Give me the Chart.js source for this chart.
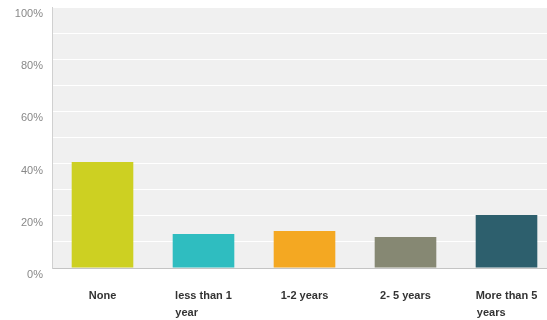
<!DOCTYPE html>
<html>
<head>
    <title>Years of experience</title>
    <script src="https://cdn.jsdelivr.net/npm/chart.js"></script>
    <style>
        html, body { margin: 0; padding: 0; background: #fff; overflow: hidden; }
        #wrap { width: 560px; height: 320px; }
    </style>
</head>
<body>
    <div id="wrap"><canvas id="grafica"></canvas></div>

    <script>
        // datos
        const categorias = ['None', ['less than 1', 'year'], '1-2 years', '2- 5 years', ['More than 5', 'years']];
        const valores = [40.6, 13.0, 14.2, 11.9, 20.3];
        const colores = ['#cdd022', '#2fbdc0', '#f4a822', '#868873', '#2d5f6d'];
        const ticksY = [0, 20, 40, 60, 80, 100];

        const fuenteX = { family: 'Liberation Sans, Arial, sans-serif', size: 11, weight: 'bold', lineHeight: 1.5 };
        const medidor = document.createElement('canvas').getContext('2d');
        medidor.font = 'bold 11px Liberation Sans, Arial, sans-serif';

        // la segunda linea va alineada a la izquierda: se rellena con espacios
        function etiquetaX(valor, i) {
            const lineas = categorias[i];
            if (!Array.isArray(lineas)) return lineas;
            const ancho = medidor.measureText(lineas[0]).width;
            let segunda = lineas[1];
            while (medidor.measureText(segunda + ' ').width <= ancho) segunda += ' ';
            return [lineas[0], segunda];
        }

        // fondo gris del area de la grafica
        const fondo = {
            id: 'fondo',
            beforeDraw(chart) {
                const { ctx, chartArea } = chart;
                ctx.save();
                ctx.fillStyle = '#f0f0f0';
                ctx.fillRect(chartArea.left, chartArea.top, chartArea.right - chartArea.left, chartArea.bottom - chartArea.top);
                ctx.restore();
            }
        };

        const ctx = document.getElementById('grafica').getContext('2d');
        const chart = new Chart(ctx, {
            type: 'bar',
            data: {
                labels: categorias,
                datasets: [{
                    data: valores,
                    backgroundColor: colores,
                    borderWidth: 0,
                    categoryPercentage: 1,
                    barPercentage: 0.61
                }]
            },
            options: {
                responsive: true,
                maintainAspectRatio: false,
                animation: false,
                layout: { padding: { top: 7, right: 3, left: 0, bottom: 0 } },
                plugins: {
                    legend: { display: false },
                    tooltip: { enabled: false }
                },
                scales: {
                    x: {
                        grid: { display: false },
                        border: { color: '#c4c4c4', width: 1 },
                        ticks: {
                            color: '#333',
                            font: fuenteX,
                            padding: 12,
                            maxRotation: 0,
                            autoSkip: false,
                            callback: etiquetaX
                        },
                        afterFit(scale) { scale.height = 52; }
                    },
                    y: {
                        min: 0,
                        max: 100,
                        grid: { color: '#ffffff', lineWidth: 1, drawTicks: false },
                        border: { color: '#d0d0d0', width: 1 },
                        ticks: {
                            stepSize: 10,
                            color: '#888',
                            padding: 9,
                            labelOffset: 7,
                            font: { family: 'Liberation Sans, Arial, sans-serif', size: 11 },
                            callback: v => ticksY.includes(v) ? v + '%' : ''
                        },
                        afterFit(scale) {
                            scale.width = 52;
                            scale.paddingTop = 0;
                            scale.paddingBottom = 0;
                        }
                    }
                }
            },
            plugins: [fondo]
        });
    </script>
</body>
</html>
